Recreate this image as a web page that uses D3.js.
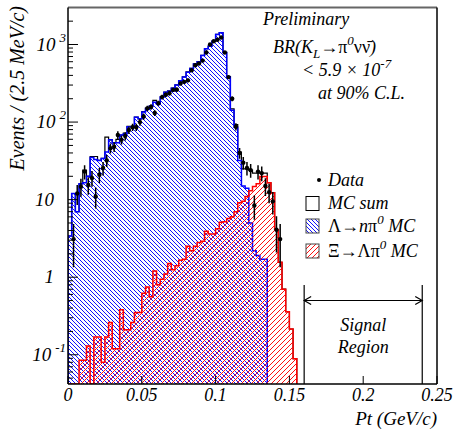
<!DOCTYPE html>
<html><head><meta charset="utf-8">
<script src="https://cdn.jsdelivr.net/npm/d3@7"></script>
<style>body{margin:0;background:#fff}</style>
</head><body>
<svg id="c" width="455" height="432"></svg>
<script>
// ---- data (bin width 2.5 MeV/c, bins start at Pt = 0) ----
const binWidth = 0.0025;
const lambdaMC = [3.4, 12, 7, 16, 16.5, 20, 35, 33, 32, 34,
  41, 59, 54, 54, 68, 70, 87, 87, 115, 110,
  135, 150, 160, 180, 170, 210, 243, 250, 272, 300,
  340, 380, 440, 490, 560, 600, 720, 880, 950, 1100,
  1350, 1420, 790, 380, 142, 86, 32, 15, 14, 5,
  2.2, 1.9, 1.7, 1.7];
const xiMC = [0, 0, 0, 0.085, 0.085, 0.13, 0.03, 0.17, 0.17, 0.08,
  0.17, 0.26, 0.12, 0.12, 0.38, 0.21, 0.21, 0.26, 0.35, 0.35,
  0.62, 0.75, 0.56, 1.2, 0.8, 0.94, 1.1, 1.5, 1.25, 1.4,
  1.65, 1.7, 2.5, 2.2, 2.5, 2.8, 2.9, 3.9, 3.6, 3.6,
  4.2, 5.1, 5.2, 5.7, 6.0, 7.0, 9.1, 9.5, 11, 13,
  14.8, 16, 19.9, 19.9, 16.5, 12.3, 4.1, 1.56, 0.7, 0.36,
  0.215, 0.089];
const mcSum = [3.4, 12, 7, 16, 24, 20, 36, 36, 32, 34,
  64, 59, 54, 60, 68, 72, 88, 88, 116, 110,
  136, 151, 161, 190, 172, 211, 244, 252, 274, 302,
  342, 382, 443, 492, 563, 603, 723, 884, 954, 1104,
  1355, 1425, 795, 386, 148, 93, 41, 25, 25, 24,
  22, 22, 22, 22, 16.5, 12.3, 4.1, 1.56, 0.7, 0.36,
  0.215, 0.089];
const dataCounts = [null, 3.1, 12, 14.7, 23, 15.5, 19, 11, 21, 25.6,
  32, 46, 48, 68, 59, 66, 79, 86, 86, 100,
  118, 150, 157, 131, 175, 210, 225, 235, 260, 262,
  315, 330, 345, 465, 540, 570, 620, 790, 1000, 1100,
  1150, 1230, 790, 380, 200, 87, 40, 30, 25.6, 24,
  8.4, 23, 22, 15, 12.5, 9.5, 4.1, 3.1];
const xTicks = [0, 0.05, 0.1, 0.15, 0.2, 0.25];
const xTickLabels = ["0", "0.05", "0.1", "0.15", "0.2", "0.25"];
const yTicks = [0.1, 1, 10, 100, 1000];
const yTickBase = ["10", "1", "10", "10", "10"];
const yTickExp = ["-1", "", "", "2", "3"];
const signalRegion = [0.16, 0.24];

// ---- layout ----
const L = 68, R = 437, T = 7.5, B = 384;
const FONT = "'Liberation Serif','Times New Roman',serif";
const svg = d3.select("#c");
const x = d3.scaleLinear().domain([0, 0.25]).range([L, R]);
const y = d3.scaleLog().domain([0.042, 3000]).range([B, T]);
const yv = v => (v && v > 0.042) ? y(v) : B;

const defs = svg.append("defs");
const pb = defs.append("pattern").attr("id", "hb").attr("patternUnits", "userSpaceOnUse")
  .attr("width", 4).attr("height", 4);
pb.append("path").attr("d", "M-1,-1L5,5M-1,3L1,5M3,-1L5,1")
  .attr("stroke", "#1010ff").attr("stroke-width", 1);
const pr = defs.append("pattern").attr("id", "hr").attr("patternUnits", "userSpaceOnUse")
  .attr("width", 5).attr("height", 5);
pr.append("path").attr("d", "M-1,6L6,-1M-1,1L1,-1M4,6L6,4")
  .attr("stroke", "#ff1010").attr("stroke-width", 1);
defs.append("clipPath").attr("id", "clip").append("rect")
  .attr("x", L).attr("y", T).attr("width", R - L).attr("height", B - T);

function histPath(vals) {
  const p = d3.path();
  p.moveTo(x(0), B);
  vals.forEach((v, i) => {
    p.lineTo(x(i * binWidth), yv(v));
    p.lineTo(x((i + 1) * binWidth), yv(v));
  });
  p.lineTo(x(vals.length * binWidth), B);
  return p.toString();
}

const g = svg.append("g").attr("clip-path", "url(#clip)");
// MC sum outline
g.append("path").attr("d", histPath(mcSum)).attr("fill", "none")
  .attr("stroke", "#000").attr("stroke-width", 1.2);
// Lambda MC
g.append("path").attr("d", histPath(lambdaMC) + "Z").attr("fill", "url(#hb)").attr("stroke", "none");
g.append("path").attr("d", histPath(lambdaMC)).attr("fill", "none")
  .attr("stroke", "#0000ff").attr("stroke-width", 1.5);
// Xi MC
g.append("path").attr("d", histPath(xiMC) + "Z").attr("fill", "url(#hr)").attr("stroke", "none");
g.append("path").attr("d", histPath(xiMC)).attr("fill", "none")
  .attr("stroke", "#ff0000").attr("stroke-width", 1.5);

// data with Poisson error bars
const pts = dataCounts.map((v, i) => ({ v, i })).filter(d => d.v);
g.selectAll("line.err").data(pts).enter().append("line")
  .attr("x1", d => x((d.i + 0.5) * binWidth)).attr("x2", d => x((d.i + 0.5) * binWidth))
  .attr("y1", d => yv(d.v + Math.sqrt(d.v))).attr("y2", d => yv(d.v - Math.sqrt(d.v)))
  .attr("stroke", "#000").attr("stroke-width", 1.5);
g.selectAll("circle.pt").data(pts).enter().append("circle")
  .attr("cx", d => x((d.i + 0.5) * binWidth)).attr("cy", d => y(d.v))
  .attr("r", 2.2).attr("fill", "#000");

// frame
svg.append("line").attr("x1", L).attr("x2", R).attr("y1", T).attr("y2", T)
  .attr("stroke", "#666").attr("stroke-width", 2);
svg.append("line").attr("x1", R).attr("x2", R).attr("y1", T).attr("y2", B)
  .attr("stroke", "#000").attr("stroke-width", 1.5);
svg.append("line").attr("x1", L).attr("x2", R).attr("y1", B).attr("y2", B)
  .attr("stroke", "#000").attr("stroke-width", 1.5);
svg.append("line").attr("x1", L).attr("x2", L).attr("y1", T).attr("y2", B)
  .attr("stroke", "#000").attr("stroke-width", 1.5);

// x ticks
xTicks.forEach((t, k) => {
  svg.append("line").attr("x1", x(t)).attr("x2", x(t)).attr("y1", B).attr("y2", B - 8)
    .attr("stroke", "#000").attr("stroke-width", 1);
  svg.append("text").attr("x", x(t)).attr("y", 401).attr("text-anchor", "middle")
    .attr("font-family", FONT).attr("font-style", "italic").attr("font-size", 18)
    .text(xTickLabels[k]);
});
// y ticks (log, major + minor)
const minor = [];
[-2, -1, 0, 1, 2, 3].forEach(e => { for (let m = 2; m <= 9; m++) minor.push(m * Math.pow(10, e)); });
minor.filter(v => v > 0.042 && v < 3000).forEach(v => {
  svg.append("line").attr("x1", L).attr("x2", L + 5).attr("y1", y(v)).attr("y2", y(v))
    .attr("stroke", "#000").attr("stroke-width", 1);
});
yTicks.forEach((t, k) => {
  svg.append("line").attr("x1", L).attr("x2", L + 10).attr("y1", y(t)).attr("y2", y(t))
    .attr("stroke", "#000").attr("stroke-width", 1);
  const tx = svg.append("text").attr("y", y(t) + 6)
    .attr("font-family", FONT).attr("font-style", "italic").attr("font-size", 19);
  if (yTickExp[k]) {
    tx.attr("x", 66).attr("text-anchor", "end");
    tx.append("tspan").text(yTickBase[k]);
    tx.append("tspan").attr("dx", 4).attr("dy", -9).attr("font-size", 13).text(yTickExp[k]);
  } else {
    tx.attr("x", 54).attr("text-anchor", "end").text(yTickBase[k]);
  }
});

// axis titles
svg.append("text").attr("transform", "translate(24,6) rotate(-90)")
  .attr("text-anchor", "end").attr("font-family", FONT).attr("font-style", "italic")
  .attr("font-size", 20).text("Events / (2.5 MeV/c)");
svg.append("text").attr("x", R).attr("y", 425).attr("text-anchor", "end")
  .attr("font-family", FONT).attr("font-style", "italic").attr("font-size", 19)
  .text("Pt (GeV/c)");

// annotation text
function txt(xp, yp, size) {
  return svg.append("text").attr("x", xp).attr("y", yp).attr("font-family", FONT)
    .attr("font-style", "italic").attr("font-size", size);
}
txt(263, 25, 18).text("Preliminary");
const br = txt(273, 53, 18);
br.append("tspan").text("BR(K");
br.append("tspan").attr("dy", 5).attr("font-size", 13).text("L");
br.append("tspan").attr("dy", -5).attr("font-style", "normal").text("\u2192\u03c0");
br.append("tspan").attr("dy", -8).attr("font-size", 13).text("0");
br.append("tspan").attr("dy", 8).attr("font-style", "normal").text("\u03bd\u03bd\u0304");
br.append("tspan").text(")");
const lim = txt(302, 76, 18);
lim.append("tspan").text("< 5.9 \u00d7 10");
lim.append("tspan").attr("dy", -8).attr("font-size", 13).text("-7");
txt(318, 99, 18).text("at 90% C.L.");

// legend
svg.append("circle").attr("cx", 319).attr("cy", 180).attr("r", 2).attr("fill", "#000");
txt(328, 186, 18).text("Data");
svg.append("rect").attr("x", 306).attr("y", 196.5).attr("width", 13).attr("height", 14)
  .attr("fill", "#fff").attr("stroke", "#000").attr("stroke-width", 1);
txt(328, 209, 18).text("MC sum");
svg.append("rect").attr("x", 306).attr("y", 219).attr("width", 13).attr("height", 14)
  .attr("fill", "url(#hb)").attr("stroke", "#444").attr("stroke-width", 1);
const l1 = txt(328, 232, 18);
l1.append("tspan").attr("font-style", "normal").text("\u039b\u2192");
l1.append("tspan").text("n");
l1.append("tspan").attr("font-style", "normal").text("\u03c0");
l1.append("tspan").attr("dy", -8).attr("font-size", 13).text("0");
l1.append("tspan").attr("dy", 8).text(" MC");
svg.append("rect").attr("x", 306).attr("y", 244).attr("width", 13).attr("height", 14)
  .attr("fill", "url(#hr)").attr("stroke", "#444").attr("stroke-width", 1);
const l2 = txt(328, 257, 18);
l2.append("tspan").attr("font-style", "normal").text("\u039e\u2192\u039b\u03c0");
l2.append("tspan").attr("dy", -8).attr("font-size", 13).text("0");
l2.append("tspan").attr("dy", 8).text(" MC");

// signal region
const sx0 = x(signalRegion[0]), sx1 = x(signalRegion[1]), ay = 300.5;
[sx0, sx1].forEach(xx => svg.append("line").attr("x1", xx).attr("x2", xx)
  .attr("y1", 285).attr("y2", B).attr("stroke", "#000").attr("stroke-width", 1.2));
svg.append("path").attr("d",
  `M${sx0},${ay}L${sx1},${ay}M${sx0 + 7},${ay - 4}L${sx0},${ay}L${sx0 + 7},${ay + 4}` +
  `M${sx1 - 7},${ay - 4}L${sx1},${ay}L${sx1 - 7},${ay + 4}`)
  .attr("fill", "none").attr("stroke", "#000").attr("stroke-width", 1.2);
txt((sx0 + sx1) / 2, 331, 18).attr("text-anchor", "middle").text("Signal");
txt((sx0 + sx1) / 2, 353, 18).attr("text-anchor", "middle").text("Region");
</script>
</body></html>
